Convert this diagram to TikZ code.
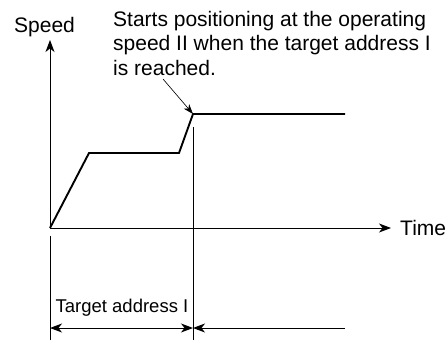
\documentclass[tikz,border=0pt]{standalone}
\usepackage{fontspec}
\setmainfont{Liberation Sans}
\usetikzlibrary{arrows.meta}
\begin{document}
\begin{tikzpicture}[x=1pt,y=-1pt,
  thin line/.style={line width=1pt},
  curve/.style={line width=1.9pt, line join=miter},
  head/.tip={Stealth[length=12pt,width=9pt,inset=3.5pt]},
  tip/.style={-head},
  lbl/.style={font=\fontsize{21}{24.5}\selectfont, inner sep=0pt},
  ]
\useasboundingbox (0,0) rectangle (447,340);
% coordinates
\coordinate (o) at (50,228);
\coordinate (ytop) at (50,40);
\coordinate (xend) at (391,228);
\coordinate (p1) at (89,153);
\coordinate (p2) at (179,153);
\coordinate (p3) at (193,114);
\coordinate (p4) at (345,114);
\coordinate (vtop) at (193,127);
\coordinate (vbot) at (193,340);
\coordinate (ltop) at (50,236);
\coordinate (lbot) at (50,340);
\coordinate (dl) at (50,328);
\coordinate (dm) at (193,328);
\coordinate (dr) at (345,328);
\coordinate (astart) at (163,79);
% axes
\draw[thin line, tip] (o) -- (ytop);
\draw[thin line, tip] (o) -- (xend);
\node[lbl, anchor=base west] (speed) at (14,32) {Speed};
\node[lbl, anchor=west] (time) at (400,228) {Time};
% speed curve
\draw[curve] (o) -- (p1) -- (p2) -- (p3) -- (p4);
% vertical lines
\draw[thin line] (vtop) -- (vbot);
\draw[thin line] (ltop) -- (lbot);
% dimension arrows
\draw[thin line, head-head] (dl) -- (dm);
\draw[thin line, head-] (dm) -- (dr);
\node[font=\fontsize{18.5}{22}\selectfont, inner sep=0pt, anchor=base] (target) at (122,312) {Target address I};
% annotation
\node[lbl, anchor=base west, align=left] (note) at (113,75) {Starts positioning at the operating\\speed II when the target address I\\is reached.};
\draw[line width=0.6pt, -{Stealth[length=10pt,width=7pt,inset=3pt]}] (astart) -- (p3);
\end{tikzpicture}
\end{document}
